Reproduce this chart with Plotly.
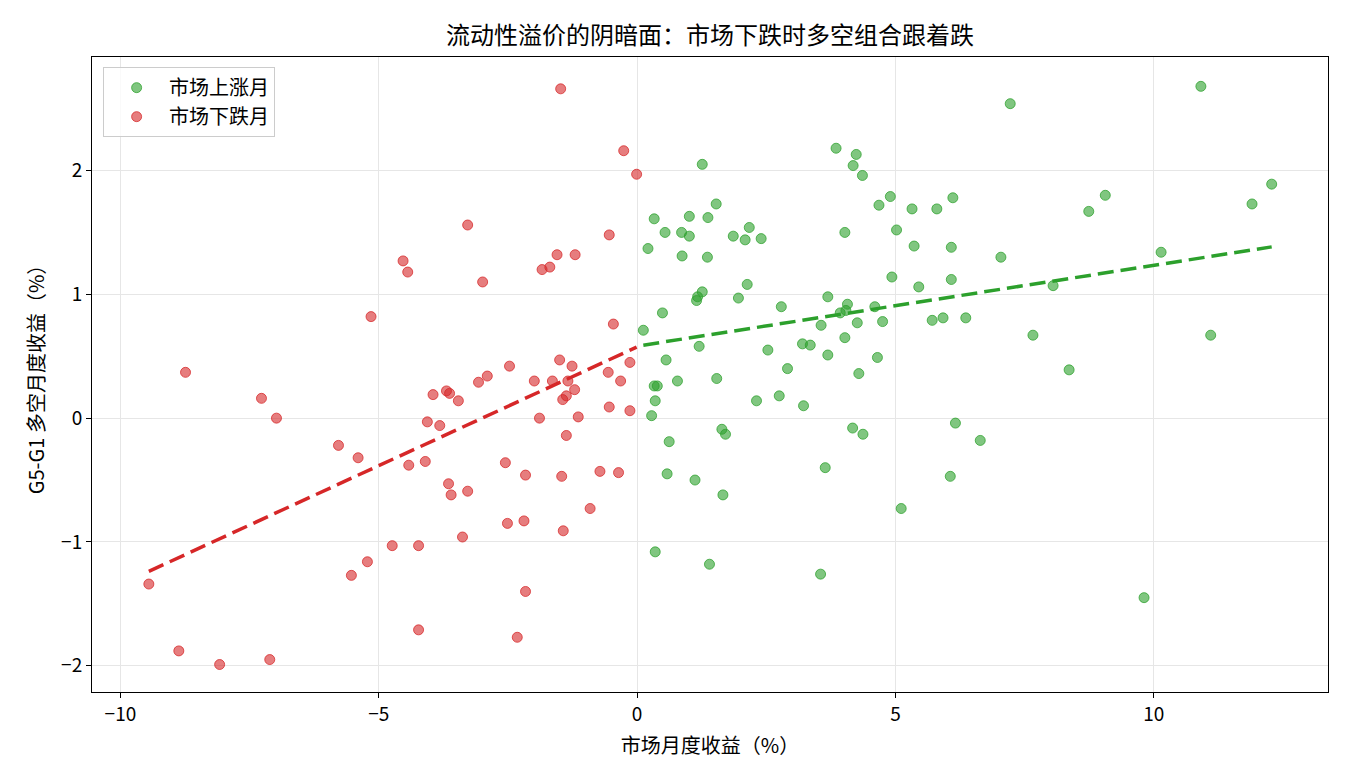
import numpy as np
import plotly.graph_objects as go

# ---- data (market monthly return %, G5-G1 long-short monthly return %) ----
up_x = [1.26, 0.33, 1.01, 1.37, 0.54, 0.86, 1.01, 0.21, 0.87, 1.36,
        1.26, 1.17, 1.15, 0.49, 0.12, 1.20, 0.56, 7.22, 3.85, 4.24,
        4.18, 4.36, 1.53, 4.68, 4.90, 5.32, 5.80, 6.11, 1.86, 2.17,
        2.09, 2.40, 4.02, 5.02, 5.36, 6.08, 7.04, 2.13, 4.93, 5.45,
        6.08, 1.96, 2.79, 3.69, 4.07, 3.93, 4.04, 4.60, 3.56, 4.26,
        4.75, 5.71, 5.92, 6.36, 4.02, 3.20, 3.35, 2.53, 3.69, 4.65,
        2.91, 4.29, 1.54, 10.91, 12.28, 11.90, 9.06, 8.74, 10.14, 8.05,
        7.66, 11.10, 8.36, 0.33, 0.39, 0.78, 0.35, 0.28, 0.62, 0.58,
        1.12, 0.35, 1.40, 2.31, 2.75, 3.22, 1.64, 1.71, 4.17, 4.37,
        6.16, 6.64, 3.64, 6.06, 1.66, 5.11, 3.55, 9.81]
up_y = [2.05, 1.61, 1.63, 1.62, 1.50, 1.50, 1.47, 1.37, 1.31, 1.30,
        1.02, 0.98, 0.95, 0.85, 0.71, 0.58, 0.47, 2.54, 2.18, 2.13,
        2.04, 1.96, 1.73, 1.72, 1.79, 1.69, 1.69, 1.78, 1.47, 1.54,
        1.44, 1.45, 1.50, 1.52, 1.39, 1.38, 1.30, 1.08, 1.14, 1.06,
        1.12, 0.97, 0.90, 0.98, 0.92, 0.85, 0.87, 0.90, 0.75, 0.77,
        0.78, 0.79, 0.81, 0.81, 0.65, 0.60, 0.59, 0.55, 0.51, 0.49,
        0.40, 0.36, 0.32, 2.68, 1.89, 1.73, 1.80, 1.67, 1.34, 1.07,
        0.67, 0.67, 0.39, 0.26, 0.26, 0.30, 0.14, 0.02, -0.19, -0.45,
        -0.50, -1.08, -1.18, 0.14, 0.18, 0.10, -0.09, -0.13, -0.08, -0.13,
        -0.04, -0.18, -0.40, -0.47, -0.62, -0.73, -1.26, -1.45]

down_x = [-9.45, -8.87, -8.74, -8.08, -7.27, -7.11, -6.98, -5.78, -5.40, -5.53,
          -5.22, -5.15, -4.74, -4.53, -4.44, -4.42, -4.23, -4.23, -4.10, -4.06,
          -3.95, -3.82, -3.69, -3.63, -3.65, -3.60, -3.46, -3.38, -3.28, -3.28,
          -3.07, -2.99, -2.90, -2.55, -2.51, -2.47, -2.32, -2.16, -2.19, -2.16,
          -1.99, -1.89, -1.84, -1.69, -1.64, -1.55, -1.50, -1.48, -1.46, -1.44,
          -1.43, -1.37, -1.37, -1.34, -1.26, -1.21, -1.20, -1.14, -0.91, -0.72,
          -0.56, -0.54, -0.54, -0.46, -0.36, -0.32, -0.26, -0.14, -0.14, -0.01]
down_y = [-1.34, -1.88, 0.37, -1.99, 0.16, -1.95, 0.00, -0.22, -0.32, -1.27,
          -1.16, 0.82, -1.03, 1.27, 1.18, -0.38, -1.03, -1.71, -0.35, -0.03,
          0.19, -0.06, 0.22, 0.20, -0.53, -0.62, 0.14, -0.96, -0.59, 1.56,
          0.29, 1.10, 0.34, -0.36, -0.85, 0.42, -1.77, -1.40, -0.83, -0.46,
          0.30, 0.00, 1.20, 1.22, 0.30, 1.32, 0.47, 2.66, -0.47, 0.15,
          -0.91, 0.18, -0.14, 0.30, 0.42, 0.23, 1.32, 0.01, -0.73, -0.43,
          0.37, 1.48, 0.09, 0.76, -0.44, 0.30, 2.16, 0.06, 0.45, 1.97]

x_ticks = [-10, -5, 0, 5, 10]
y_ticks = [-2, -1, 0, 1, 2]

title = "流动性溢价的阴暗面：市场下跌时多空组合跟着跌"
x_title = "市场月度收益（%）"
y_title = "G5-G1 多空月度收益（%）"
up_name = "市场上涨月"
down_name = "市场下跌月"

GREEN = "#2ca02c"
RED = "#d62728"
FONT = "Noto Sans CJK SC"


def fit_line(xs, ys):
    xs = np.asarray(xs)
    ys = np.asarray(ys)
    k, b = np.polyfit(xs, ys, 1)
    lx = np.array([xs.min(), xs.max()])
    return lx, k * lx + b


fig = go.Figure()

fig.add_trace(go.Scatter(
    x=up_x, y=up_y, mode="markers", name=up_name,
    marker=dict(size=10, color="rgba(44,160,44,0.6)",
                line=dict(width=1, color="rgba(44,160,44,0.75)")),
))
fig.add_trace(go.Scatter(
    x=down_x, y=down_y, mode="markers", name=down_name,
    marker=dict(size=10, color="rgba(214,39,40,0.6)",
                line=dict(width=1, color="rgba(214,39,40,0.75)")),
))

dlx, dly = fit_line(down_x, down_y)
ulx, uly = fit_line(up_x, up_y)
fig.add_trace(go.Scatter(x=dlx, y=dly, mode="lines", showlegend=False,
                         line=dict(color=RED, width=3.5, dash="16px,7px")))
fig.add_trace(go.Scatter(x=ulx, y=uly, mode="lines", showlegend=False,
                         line=dict(color=GREEN, width=3.5, dash="16px,7px")))

axis_common = dict(
    showline=True, linecolor="black", linewidth=1, mirror=True,
    ticks="outside", ticklen=5, tickcolor="black",
    showgrid=True, gridcolor="#e6e6e6", gridwidth=1,
    zeroline=False, tickfont=dict(size=19, color="black", family=FONT),
)

fig.update_layout(
    width=1350, height=780,
    margin=dict(l=92, r=22, t=57, b=88),
    paper_bgcolor="white", plot_bgcolor="white",
    font=dict(family=FONT, color="black"),
    title=dict(text=title, x=(92 + 1328) / 2 / 1350, xanchor="center",
               y=1 - 36 / 780, yanchor="middle",
               font=dict(size=24, color="black", family=FONT)),
    xaxis=dict(range=[-10.55, 13.37], tickvals=x_ticks,
               title=dict(text=x_title, font=dict(size=20), standoff=14),
               **axis_common),
    yaxis=dict(range=[-2.212, 2.917], tickvals=y_ticks,
               title=dict(text=y_title, font=dict(size=20), standoff=11),
               **axis_common),
    legend=dict(x=0.009, y=0.984, xanchor="left", yanchor="top",
                bgcolor="rgba(255,255,255,0.8)", bordercolor="#cccccc",
                borderwidth=1, font=dict(size=20, family=FONT),
                itemwidth=55, tracegroupgap=0),
    showlegend=True,
)

fig.write_html("out.html")
